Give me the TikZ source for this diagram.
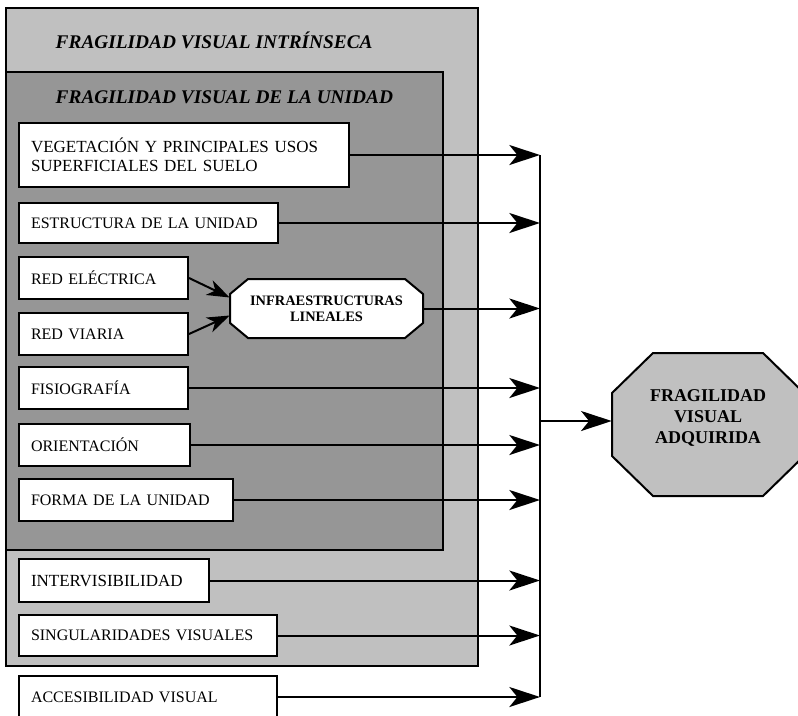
\documentclass[tikz,border=0pt]{standalone}
\usepackage{fontspec}
\setmainfont{Liberation Serif}
\usetikzlibrary{arrows.meta}
\usetikzlibrary{calc}
\definecolor{grisclaro}{RGB}{192,192,192}
\definecolor{grisoscuro}{RGB}{150,150,150}
\tikzset{
  caja/.style={draw, line width=1.5pt, fill=white, anchor=north west,
    inner xsep=9pt, inner ysep=0pt, align=left,
    font=\fontsize{12}{14.5}\selectfont},
  grande/.style={font=\fontsize{12.75}{14.5}\selectfont},
  titulo/.style={anchor=west, font=\fontsize{14.5}{17}\selectfont\bfseries\itshape},
  flecha/.style={line width=1.5pt, -{Stealth[length=23pt,width=15pt,inset=6pt]}},
  flechita/.style={line width=1.5pt, -{Stealth[length=17pt,width=12pt,inset=5pt]}}
}

\begin{document}
\begin{tikzpicture}[x=0.75pt, y=-0.75pt]
  \useasboundingbox (0,0) rectangle (798,715);
  \clip (0,0) rectangle (798,715);

  %% Cajas de fondo y titulos.
  \draw[line width=1.5pt, fill=grisclaro] (6,8) rectangle (478,666);
  \draw[line width=1.5pt, fill=grisoscuro] (6,72) rectangle (443,550);
  \node[titulo] (intrinseca) at (51,40) {FRAGILIDAD VISUAL INTRÍNSECA};
  \node[titulo] (unidad) at (51,97) {FRAGILIDAD VISUAL DE LA UNIDAD};

  %% Factores de la unidad:
  \node[caja, grande, text width=229.5pt, minimum height=48pt] (vegetacion) at (18,122)
  {VEGETACIÓN Y PRINCIPALES USOS\\SUPERFICIALES DEL SUELO};
  \node[caja, text width=176.25pt, minimum height=30pt] (estructura) at (18,202)
  {ESTRUCTURA DE LA UNIDAD};
  \node[caja, text width=108.75pt, minimum height=31.5pt] (redelectrica) at (18,256)
  {RED ELÉCTRICA};
  \node[caja, text width=108.75pt, minimum height=31.5pt] (redviaria) at (18,312)
  {RED VIARIA};
  \node[caja, text width=108.75pt, minimum height=31.5pt] (fisiografia) at (18,366)
  {FISIOGRAFÍA};
  \node[caja, text width=110.25pt, minimum height=31.5pt] (orientacion) at (18,423)
  {ORIENTACIÓN};
  \node[caja, text width=142.5pt, minimum height=31.5pt] (forma) at (18,478)
  {FORMA DE LA UNIDAD};

  %% Factores intrinsecos y accesibilidad:
  \node[caja, grande, text width=124.5pt, minimum height=32.25pt] (intervisibilidad) at (18,558)
  {INTERVISIBILIDAD};
  \node[caja, text width=175.5pt, minimum height=30.75pt] (singularidades) at (18,614)
  {SINGULARIDADES VISUALES};
  \node[caja, text width=175.5pt, minimum height=31.5pt] (accesibilidad) at (18,675)
  {ACCESIBILIDAD VISUAL};

  %% Infraestructuras lineales:
  \draw[line width=1.5pt, fill=white] (248,279) -- (405,279) -- (423,294)
  -- (423,323) -- (405,338) -- (248,338) -- (230,323) -- (230,294) -- cycle;
  \node[minimum width=144.75pt, minimum height=44.25pt, align=center,
  font=\fontsize{10.8}{12}\selectfont\bfseries] (infra) at (326.5,308.5)
  {INFRAESTRUCTURAS\\LINEALES};
  \draw[flechita] (redelectrica.east) -- ($(infra.west)+(0,-11)$);
  \draw[flechita] (redviaria.east) -- ($(infra.west)+(0,7)$);

  %% Fragilidad visual adquirida:
  \draw[line width=1.5pt, fill=grisclaro] (653,353) -- (763,353) -- (804,393)
  -- (804,456) -- (763,496) -- (653,496) -- (612,456) -- (612,393) -- cycle;
  \node[minimum width=144pt, align=center,
  font=\fontsize{13.5}{15.75}\selectfont\bfseries] (adquirida) at (708,418)
  {FRAGILIDAD\\VISUAL\\ADQUIRIDA};

  %% Conexiones:
  \coordinate (bus) at (540,0);
  \draw[line width=1.1pt] (vegetacion.east -| bus) -- (accesibilidad.east -| bus);
  \foreach \n in {vegetacion, estructura, infra, fisiografia, orientacion, forma,
    intervisibilidad, singularidades, accesibilidad}
    \draw[flecha] (\n.east) -- (\n.east -| bus);
  \coordinate (salida) at (540,421);
  \draw[flecha] (salida) -- (salida -| adquirida.west);

\end{tikzpicture}
\end{document}
